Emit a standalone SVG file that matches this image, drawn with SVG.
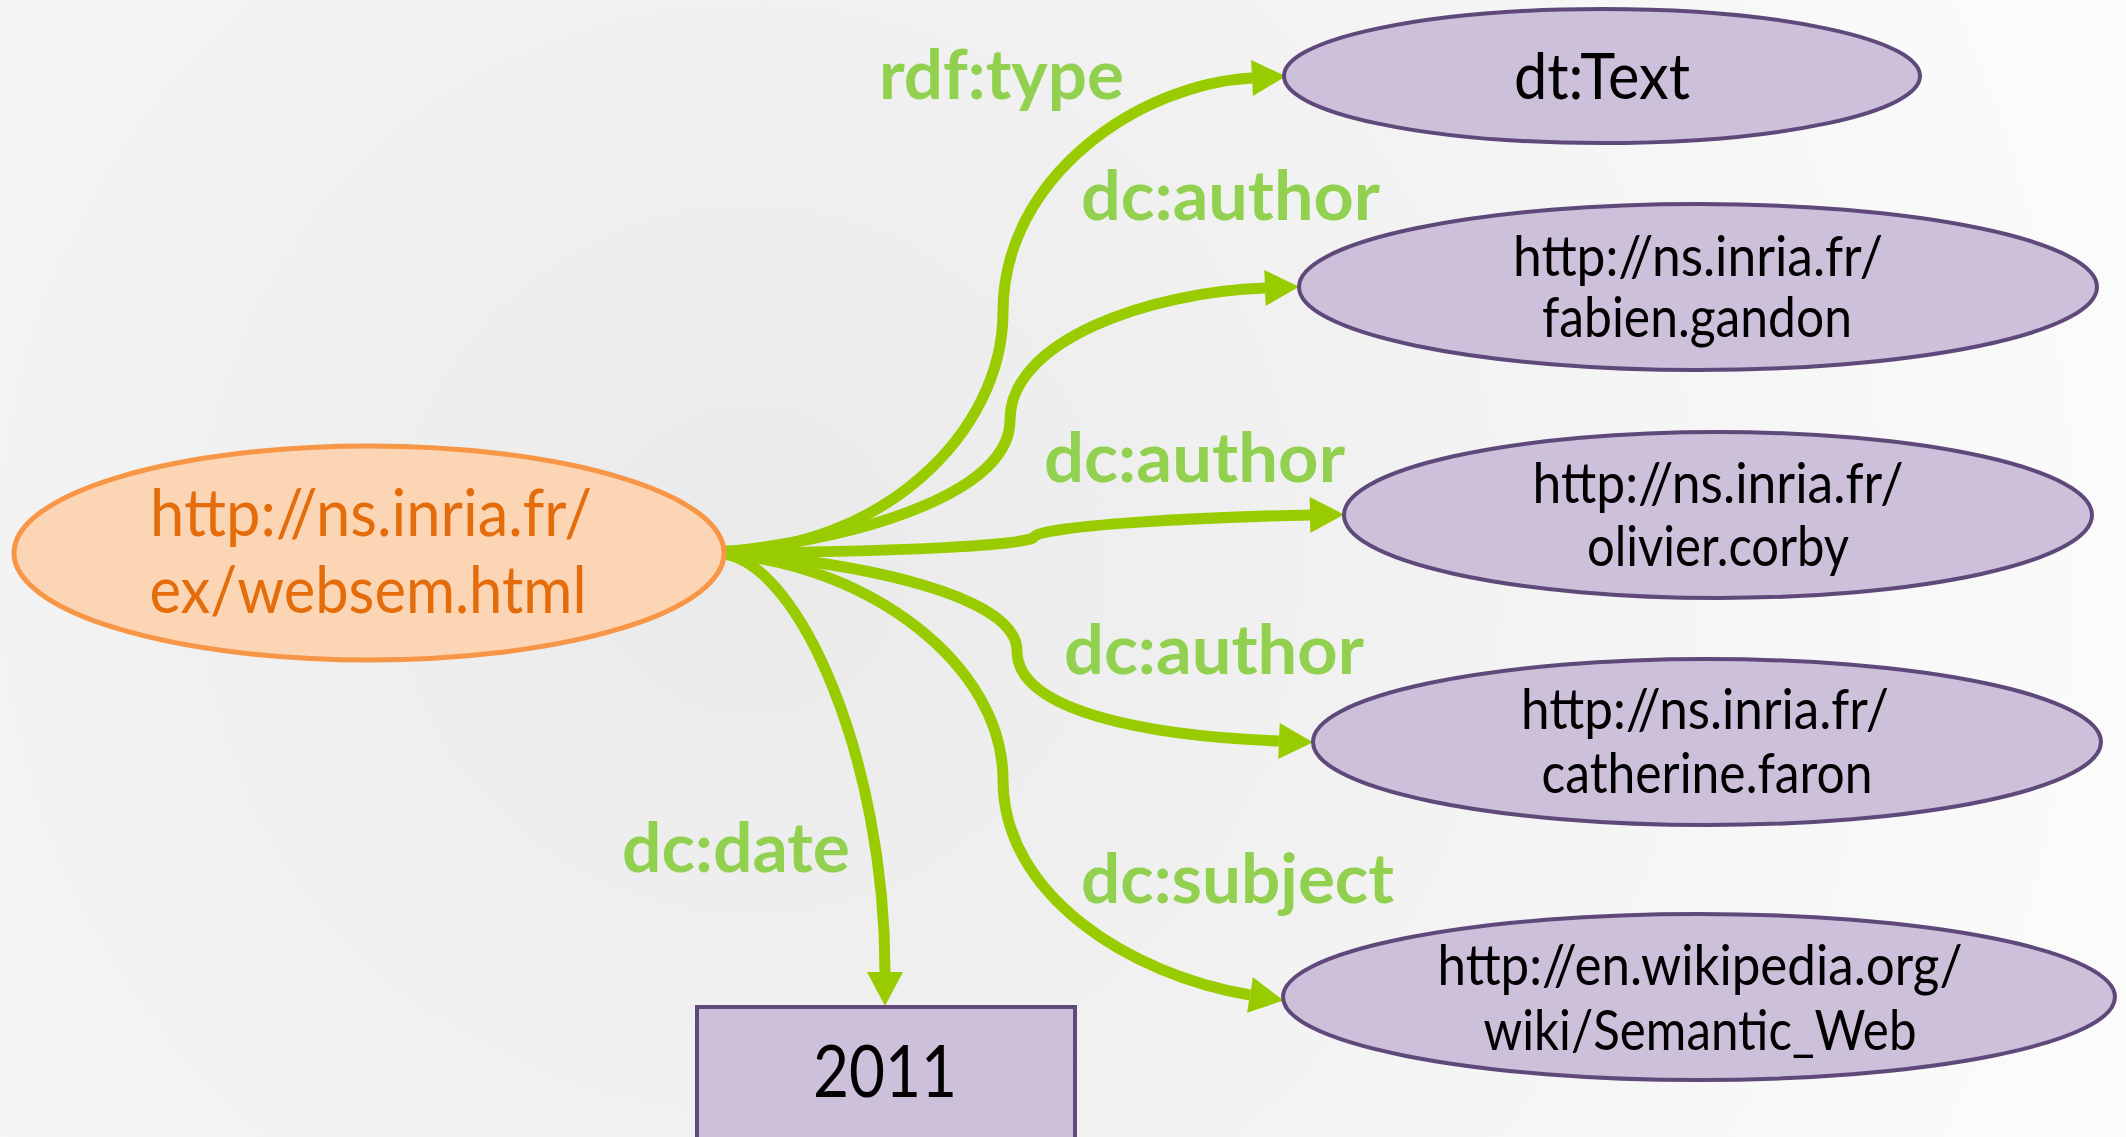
<svg xmlns="http://www.w3.org/2000/svg" width="2126" height="1137" viewBox="0 0 2126 1137">
<defs>
<radialGradient id="bg" cx="750" cy="560" r="1400" gradientUnits="userSpaceOnUse">
<stop offset="0" stop-color="#EAEAEA"/>
<stop offset="0.6" stop-color="#F4F4F4"/>
<stop offset="1" stop-color="#FBFBFB"/>
</radialGradient>
<marker id="arr" markerUnits="userSpaceOnUse" markerWidth="36" markerHeight="36" refX="0" refY="0" orient="auto" overflow="visible">
<path d="M0,-18 L34,0 L0,18 z" fill="#99CC00"/>
</marker>
<style>
.edge{fill:none;stroke:#99CC00;stroke-width:11;marker-end:url(#arr)}
.lbl{font-family:Lato,"Open Sans",sans-serif;font-weight:bold;fill:#92D050;font-size:68px}
.res{fill:#CCC0DA;stroke:#5F497A;stroke-width:4}
.rt{font-family:Lato,"Open Sans",sans-serif;fill:#000;font-size:56px;text-anchor:middle}
.big{font-size:63px}
.num{font-size:71px}
.src{fill:#FCD5B5;stroke:#F79646;stroke-width:5}
.st{font-family:Lato,"Open Sans",sans-serif;fill:#E46C0A;font-size:65px;text-anchor:middle}
</style>
</defs>
<rect width="2126" height="1137" fill="url(#bg)"/>
<g id="connectors">
<path class="edge" d="M724,551 C880,549 1003,434 1003,312 C1003,176 1140,84 1252,78"/>
<path class="edge" d="M724,552 C880,535 1010,488 1010,420 C1010,340 1150,292 1265,288"/>
<path class="edge" d="M724,553 C900,552 1030,545 1034,537 C1038,526 1200,517 1310,515"/>
<path class="edge" d="M724,553 C868,563 1017,597 1017,651 C1017,712 1150,736 1279,741"/>
<path class="edge" d="M724,554 C868,565 1003,664 1003,780 C1003,895 1130,975 1250,995"/>
<path class="edge" d="M724,554 C800,565 885,760 885,972"/>
<text class="lbl" x="879" y="99" textLength="245" lengthAdjust="spacingAndGlyphs">rdf:type</text>
<text class="lbl" x="1081" y="220" textLength="299" lengthAdjust="spacingAndGlyphs">dc:author</text>
<text class="lbl" x="1044" y="482" textLength="301" lengthAdjust="spacingAndGlyphs">dc:author</text>
<text class="lbl" x="1064" y="674" textLength="300" lengthAdjust="spacingAndGlyphs">dc:author</text>
<text class="lbl" x="622" y="872" textLength="228" lengthAdjust="spacingAndGlyphs">dc:date</text>
<text class="lbl" x="1081" y="903" textLength="313" lengthAdjust="spacingAndGlyphs">dc:subject</text>
</g>
<g id="source">
<ellipse class="src" cx="369" cy="553" rx="355" ry="107"/>
<text class="st" x="371" y="536" textLength="442" lengthAdjust="spacingAndGlyphs">http://ns.inria.fr/</text>
<text class="st" x="368" y="613" textLength="437" lengthAdjust="spacingAndGlyphs">ex/websem.html</text>
</g>
<g id="type">
<ellipse class="res" cx="1602" cy="76" rx="318" ry="67"/>
<text class="rt big" x="1602" y="99" textLength="176" lengthAdjust="spacingAndGlyphs">dt:Text</text>
</g>
<g id="fabien">
<ellipse class="res" cx="1698" cy="287" rx="399" ry="83"/>
<text class="rt" x="1698" y="276" textLength="370" lengthAdjust="spacingAndGlyphs">http://ns.inria.fr/</text>
<text class="rt" x="1697" y="337" textLength="310" lengthAdjust="spacingAndGlyphs">fabien.gandon</text>
</g>
<g id="olivier">
<ellipse class="res" cx="1718" cy="515" rx="374" ry="83"/>
<text class="rt" x="1718" y="503" textLength="371" lengthAdjust="spacingAndGlyphs">http://ns.inria.fr/</text>
<text class="rt" x="1718" y="566" textLength="262" lengthAdjust="spacingAndGlyphs">olivier.corby</text>
</g>
<g id="catherine">
<ellipse class="res" cx="1707" cy="742" rx="394" ry="83"/>
<text class="rt" x="1705" y="729" textLength="368" lengthAdjust="spacingAndGlyphs">http://ns.inria.fr/</text>
<text class="rt" x="1707" y="793" textLength="331" lengthAdjust="spacingAndGlyphs">catherine.faron</text>
</g>
<g id="wikipedia">
<ellipse class="res" cx="1699" cy="997" rx="416" ry="83"/>
<text class="rt" x="1700" y="985" textLength="525" lengthAdjust="spacingAndGlyphs">http://en.wikipedia.org/</text>
<text class="rt" x="1700" y="1050" textLength="433" lengthAdjust="spacingAndGlyphs">wiki/Semantic_Web</text>
</g>
<g id="date">
<rect x="697" y="1007" width="378" height="140" fill="#CCC0DA" stroke="#5F497A" stroke-width="4"/>
<text class="rt num" x="885" y="1097" textLength="144" lengthAdjust="spacingAndGlyphs">2011</text>
</g>
</svg>
